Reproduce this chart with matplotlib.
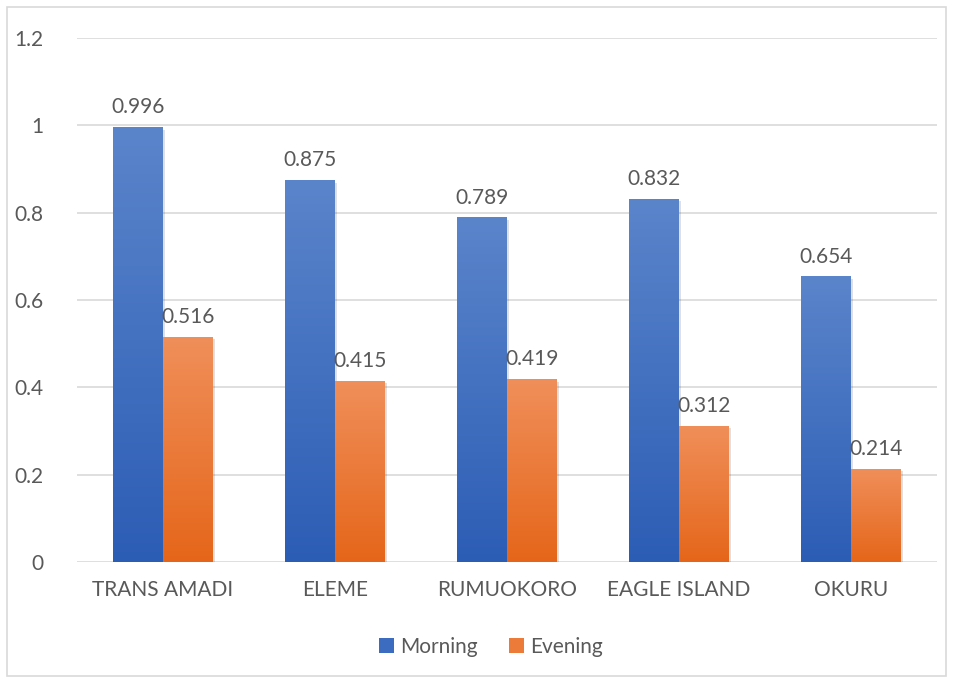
import numpy as np
import matplotlib.pyplot as plt
from matplotlib.colors import LinearSegmentedColormap
from matplotlib.patches import Patch, Rectangle

sites   = ["TRANS AMADI", "ELEME", "RUMUOKORO", "EAGLE ISLAND", "OKURU"]
morning = [0.996, 0.875, 0.789, 0.832, 0.654]
evening = [0.516, 0.415, 0.419, 0.312, 0.214]
yticks  = [0, 0.2, 0.4, 0.6, 0.8, 1.0, 1.2]
ylabels = ["0", "0.2", "0.4", "0.6", "0.8", "1", "1.2"]

plt.rcParams['font.family'] = ['Lato', 'DejaVu Sans']
TXT = '#595959'
FS = 15
cm_m = LinearSegmentedColormap.from_list('m', ['#2C5DB5', '#5B85CB'])
cm_e = LinearSegmentedColormap.from_list('e', ['#E5661A', '#F08F5A'])

fig = plt.figure(figsize=(9.57, 6.79), dpi=100)
ax = fig.add_axes([77/957, 1 - 562/679, 860/957, 524/679])
fig.patches.append(Rectangle((7/957, 3/679), 939/957, 669/679, transform=fig.transFigure,
                             fill=False, edgecolor='#D9D9D9', lw=1.2))

x = np.arange(len(sites))
w = 0.29
grad = np.linspace(0, 1, 256).reshape(-1, 1)

def gbars(xs, vals, cmap):
    bars = ax.bar(xs, vals, w, color='none', zorder=3)
    for b, v in zip(bars, vals):
        x0 = b.get_x()
        ax.add_patch(Rectangle((x0 + 0.012, -0.006), w, v, color='#000000', alpha=0.12, zorder=2, lw=0))
        im = ax.imshow(grad, extent=(x0, x0 + w, 0, v), origin='lower', cmap=cmap,
                       aspect='auto', zorder=3)
        im.set_clip_path(b)
        ax.annotate(f"{v:.3f}", (x0 + w / 2, v), xytext=(0, 7), textcoords='offset points',
                    ha='center', va='bottom', fontsize=FS, color=TXT)
    return bars

gbars(x - w / 2, morning, cm_m)
gbars(x + w / 2, evening, cm_e)

ax.set_xlim(-0.5, len(sites) - 0.5)
ax.set_ylim(0, 1.2)
ax.set_yticks(yticks, ylabels)
ax.set_xticks(x, sites)
ax.tick_params(length=0, labelsize=FS, colors=TXT)
ax.tick_params(axis='x', pad=13)
ax.tick_params(axis='y', pad=24)
ax.grid(axis='y', color='#D9D9D9', lw=1.2, zorder=0)
ax.set_axisbelow(True)
for s in ax.spines.values():
    s.set_visible(False)

handles = [Patch(facecolor='#3C6CC0', label='Morning'), Patch(facecolor='#EC7A38', label='Evening')]
fig.legend(handles=handles, loc='center', bbox_to_anchor=(491/957, 1 - 647/679), ncol=2,
           frameon=False, fontsize=FS, labelcolor=TXT, handlelength=0.7, handleheight=0.7,
           handletextpad=0.3, columnspacing=1.5)

plt.savefig('out.png', dpi=100)
